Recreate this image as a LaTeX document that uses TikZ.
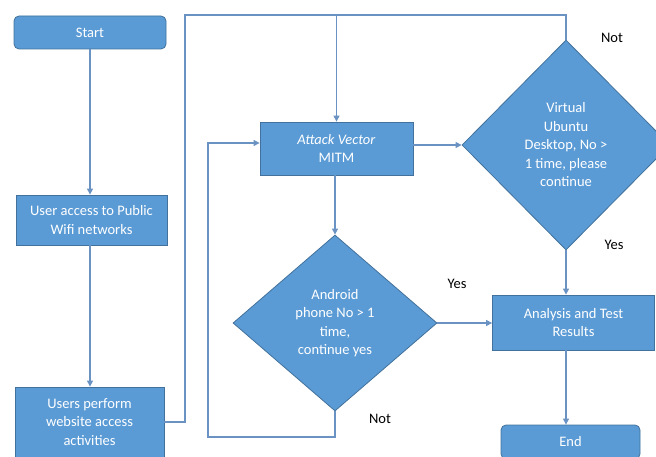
\documentclass[tikz,border=0pt]{standalone}
\usepackage{fontspec}
\setmainfont{Carlito}
\usetikzlibrary{arrows.meta,shapes.geometric,calc}
\definecolor{boxfill}{HTML}{5B9BD5}
\definecolor{boxline}{HTML}{41719C}
\definecolor{conn}{HTML}{6A92C2}
\tikzset{
  base/.style={fill=boxfill,draw=boxline,line width=0.8pt,text=white,align=center,
    font=\fontsize{14.5}{18.5}\selectfont,inner sep=0pt},
  procbox/.style={base,rectangle},
  termbox/.style={base,rectangle,rounded corners=5pt},
  decbox/.style={base,diamond,aspect=1},
  conn/.style={draw=conn,line width=1.1pt},
  arr/.style={conn,-{Triangle[length=6pt,width=6pt]}},
  lbl/.style={font=\fontsize{14.5}{16}\selectfont,text=black,inner sep=0pt}
}
\begin{document}
\begin{tikzpicture}[x=1pt,y=-1pt]
\useasboundingbox (0,0) rectangle (656,457);
\node[termbox,minimum width=152pt,minimum height=33pt] (start) at (90,32.5) {Start};
\node[procbox,minimum width=151pt,minimum height=50pt] (wifi) at (91.5,220) {User access to Public\\Wifi networks};
\node[procbox,minimum width=149pt,minimum height=70pt] (users) at (89.5,422) {Users perform\\website access\\activities};
\node[procbox,minimum width=153pt,minimum height=53pt] (attack) at (336.5,148.5) {\textit{Attack Vector}\\MITM};
\node[decbox,minimum width=208pt,minimum height=210pt] (virtual) at (566,145) {Virtual\\Ubuntu\\Desktop, No >\\1 time, please\\continue};
\node[decbox,minimum width=204pt,minimum height=176pt] (android) at (335,323) {Android\\phone No > 1\\time,\\continue yes};
\node[procbox,minimum width=162pt,minimum height=55pt] (analysis) at (573.5,322.5) {Analysis and Test\\Results};
\node[termbox,minimum width=139pt,minimum height=34pt] (end) at (570.5,442) {End};

\node[lbl] (not1) at (612,38) {Not};
\node[lbl] (yes1) at (614,245) {Yes};
\node[lbl] (yes2) at (457,284) {Yes};
\node[lbl] (not2) at (380,419) {Not};

\coordinate (tl) at (185,15);
\coordinate (lb) at (208,437);

\draw[arr] (start.south) -- (start.south |- wifi.north);
\draw[arr] (wifi.south -| start.south) -- (start.south |- users.north);
\draw[arr] (users.east) -| (tl) -| (attack.north);
\draw[conn] (virtual.north) |- (attack.north |- tl);
\draw[arr] (attack.east |- virtual.west) -- (virtual.west);
\draw[arr] (attack.south -| android.north) -- (android.north);
\draw[arr] (android.east) -- (android.east -| analysis.west);
\draw[arr] (virtual.south) -- (virtual.south |- analysis.north);
\draw[arr] (virtual.south |- analysis.south) -- (virtual.south |- end.north);
\draw[arr] (android.south) |- (lb) |- ($(attack.west)+(0,-5.5)$);
\end{tikzpicture}
\end{document}
